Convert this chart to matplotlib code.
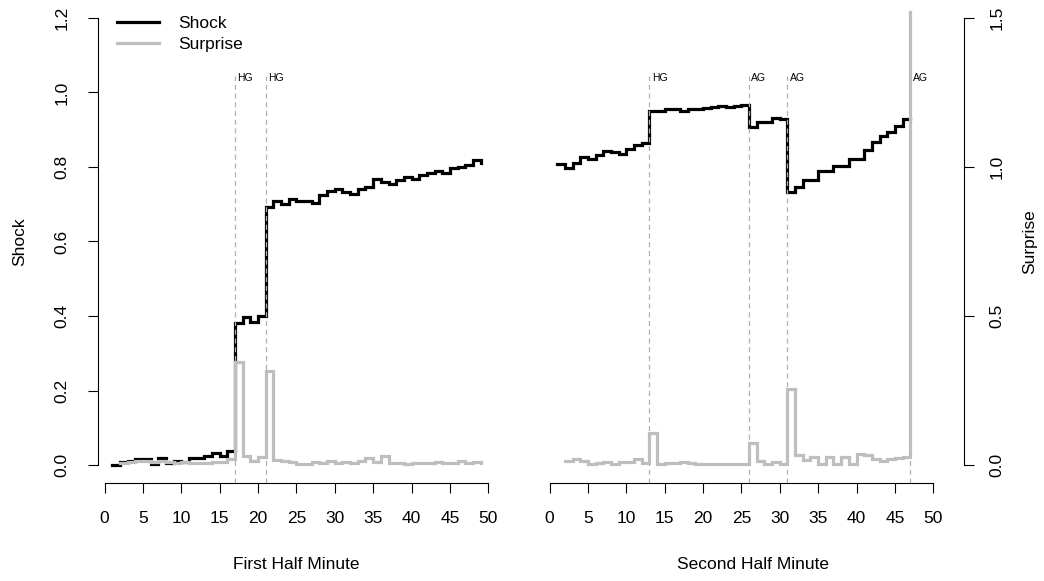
import numpy as np
import matplotlib.pyplot as plt

plt.rcParams['font.family'] = ['Liberation Sans', 'DejaVu Sans']

# first half: minute index, shock and surprise (surprise undefined at minute 1)
minute1 = np.arange(1, 50)
shock1 = [0.000, 0.008, 0.012, 0.015, 0.015, 0.004, 0.020, 0.006, 0.010, 0.008,
          0.020, 0.020, 0.024, 0.033, 0.024, 0.038, 0.380, 0.398, 0.385, 0.400,
          0.693, 0.709, 0.700, 0.714, 0.709, 0.708, 0.703, 0.725, 0.736, 0.742,
          0.733, 0.727, 0.742, 0.747, 0.768, 0.761, 0.754, 0.766, 0.774, 0.769,
          0.778, 0.783, 0.790, 0.783, 0.798, 0.800, 0.805, 0.818, 0.812]
surprise1 = [np.nan, 0.008, 0.010, 0.012, 0.013, 0.010, 0.012, 0.010, 0.008, 0.010,
             0.006, 0.008, 0.007, 0.010, 0.009, 0.019, 0.347, 0.030, 0.014, 0.028,
             0.315, 0.016, 0.014, 0.011, 0.005, 0.002, 0.009, 0.007, 0.014, 0.007,
             0.011, 0.008, 0.014, 0.022, 0.009, 0.030, 0.007, 0.007, 0.002, 0.008,
             0.006, 0.007, 0.009, 0.006, 0.008, 0.014, 0.007, 0.009, 0.006]
goals1 = [17, 21]
goal_labels1 = ["HG", "HG"]

# second half
minute2 = np.arange(1, 48)
shock2 = [0.807, 0.797, 0.811, 0.826, 0.821, 0.832, 0.844, 0.840, 0.836, 0.847,
          0.858, 0.864, 0.951, 0.950, 0.955, 0.957, 0.950, 0.955, 0.957, 0.959,
          0.960, 0.964, 0.960, 0.965, 0.966, 0.908, 0.920, 0.922, 0.931, 0.928,
          0.734, 0.745, 0.766, 0.766, 0.789, 0.789, 0.803, 0.803, 0.822, 0.822,
          0.846, 0.868, 0.882, 0.895, 0.911, 0.928, 0.928]
surprise2 = [np.nan, 0.0145, 0.019, 0.0145, 0.002, 0.0067, 0.011, 0.002, 0.009, 0.011,
             0.019, 0.0056, 0.106, 0.002, 0.0056, 0.0067, 0.009, 0.0056, 0.002, 0.002,
             0.002, 0.002, 0.002, 0.002, 0.002, 0.073, 0.0145, 0.002, 0.009, 0.002,
             0.254, 0.034, 0.017, 0.028, 0.002, 0.028, 0.002, 0.028, 0.002, 0.037,
             0.034, 0.019, 0.0145, 0.019, 0.022, 0.028, 1.52]
goals2 = [13, 26, 31, 47]
goal_labels2 = ["HG", "AG", "AG", "AG"]

W, H = 1044, 581
fig = plt.figure(figsize=(W / 100, H / 100), dpi=100)


def px_axes(x0, x1, y0, y1):
    return fig.add_axes([x0 / W, 1 - y1 / H, (x1 - x0) / W, (y1 - y0) / H])


FS = 12.5
GRAY = '#bebebe'
tick_kw = dict(length=7.2, width=0.8, pad=13, labelsize=FS, color='black')


def panel(ax, minute, shock, surprise, goals, labels, xlim, xlabel, side):
    ax.plot(minute, shock, drawstyle='steps-post', color='black', lw=2.3,
            solid_joinstyle='miter', label='Shock')
    ax.set_xlim(*xlim)
    ax.set_ylim(-0.048, 1.248)
    for g, lab in zip(goals, labels):
        ax.plot([g, g], [-0.048, 1.045], ls=(0, (4, 3)), color='#b0b0b0', lw=0.9)
        ax.text(g + 0.3, 1.04, lab, fontsize=7.5, ha='left', va='center')
    ax2 = ax.twinx()
    ax2.plot(minute, surprise, drawstyle='steps-post', color=GRAY, lw=2.3,
             solid_joinstyle='miter', label='Surprise')
    ax2.set_ylim(-0.06, 1.56)
    ax2.set_xlim(*xlim)
    for s in ['top', 'right', 'left', 'bottom']:
        ax.spines[s].set_visible(False)
        ax2.spines[s].set_visible(False)
    ax.spines['bottom'].set_visible(True)
    ax.spines['bottom'].set_bounds(0, 50)
    ax.spines['bottom'].set_linewidth(0.8)
    ax.set_xticks(range(0, 51, 5))
    ax.tick_params(axis='x', **tick_kw)
    ax.set_xlabel(xlabel, fontsize=FS, labelpad=22)
    if side == 'left':
        ax.spines['left'].set_visible(True)
        ax.spines['left'].set_bounds(0, 1.2)
        ax.spines['left'].set_linewidth(0.8)
        ax.set_yticks([0, 0.2, 0.4, 0.6, 0.8, 1.0, 1.2])
        ax.set_yticklabels(['0.0', '0.2', '0.4', '0.6', '0.8', '1.0', '1.2'],
                           rotation=90, va='center')
        ax.tick_params(axis='y', **tick_kw)
        ax.set_ylabel('Shock', fontsize=FS, labelpad=20)
        ax2.set_yticks([])
    else:
        ax.set_yticks([])
        ax2.spines['right'].set_visible(True)
        ax2.spines['right'].set_bounds(0, 1.5)
        ax2.spines['right'].set_linewidth(0.8)
        ax2.set_yticks([0, 0.5, 1.0, 1.5])
        ax2.set_yticklabels(['0.0', '0.5', '1.0', '1.5'], rotation=90, va='center')
        ax2.tick_params(axis='y', **dict(tick_kw, pad=11))
        ax2.set_ylabel('Surprise', fontsize=FS, labelpad=13)
    return ax2


ax_l = px_axes(97.6, 495.3, 0.1, 482.9)
ax_r = px_axes(541.7, 964.2, 0.1, 482.9)

ax_l2 = panel(ax_l, minute1, shock1, surprise1, goals1, goal_labels1,
              (-0.92, 50.92), 'First Half Minute', 'left')
panel(ax_r, minute2, shock2, surprise2, goals2, goal_labels2,
      (-1.04, 54.04), 'Second Half Minute', 'right')

h1, l1 = ax_l.get_legend_handles_labels()
h2, l2 = ax_l2.get_legend_handles_labels()
ax_l2.legend(h1 + h2, l1 + l2, loc='upper left', bbox_to_anchor=(117 / W, 1 - 16 / H),
             bbox_transform=fig.transFigure, frameon=False, fontsize=FS,
             handlelength=2.4, handletextpad=1.1, labelspacing=0.35,
             borderpad=0, borderaxespad=0)

fig.savefig('out.png', dpi=100)
